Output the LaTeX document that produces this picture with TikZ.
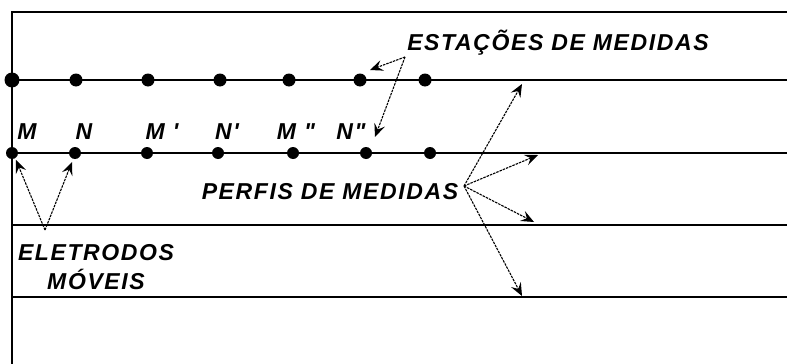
\documentclass[tikz,border=0pt]{standalone}
\usepackage{fontspec}
\setmainfont{Liberation Sans}
\newfontfamily\lblfont[LetterSpace=7]{Liberation Sans}
\usetikzlibrary{arrows.meta}

\begin{document}
\begin{tikzpicture}[x=1pt,y=-1pt]
      \tikzset{mark coordinate/.style={inner sep=0pt,
          outer sep=0pt,
          minimum size=#1,
          fill=black,
          circle},
        lbl/.style={inner sep=0pt,
          font=\lblfont\bfseries\itshape\fontsize{23}{29}\selectfont},
        pointer/.style={dash pattern=on 2.5pt off 1pt, line width=1.1pt,
          -{Stealth[length=13pt,width=11pt,inset=5pt]}}
      }
      \useasboundingbox (0,0) rectangle (787,364);
      \draw [line width=1.8pt] (787,12)--(12,12)--(12,364);
      \foreach \y in {80,153,225,297}
        \draw [line width=1.8pt] (12,\y)--(787,\y);

      % estacoes (perfil 1 e 2)
      \foreach \x [count=\i] in {12,76,148,220,289,360,425}
        \node [mark coordinate=13pt] (t\i) at (\x,80) {};
      \foreach \x [count=\i] in {12,75,147,218,293,366,430}
        \node [mark coordinate=12pt] (b\i) at (\x,153) {};
      \node [mark coordinate=15pt] at (t1) {};

      \node [lbl] (m1) at (27,132) {M};
      \node [lbl] (n1) at (84,132) {N};
      \node [lbl] (m2) at (162,132) {M '};
      \node [lbl] (n2) at (227,132) {N'};
      \node [lbl] (m3) at (296,132) {M "};
      \node [lbl] (n3) at (351,132) {N"};

      \node [lbl] (est) at (558,43) {ESTAÇÕES DE MEDIDAS};
      \node [lbl] (perf) at (330,192) {PERFIS DE MEDIDAS};
      \node [lbl, align=center] (elet) at (96,267) {ELETRODOS\\MÓVEIS};

      \coordinate (est0) at (405,57);
      \coordinate (e1) at (370,70);
      \coordinate (e2) at (375,137);
      \draw [pointer] (est0)--(e1);
      \draw [pointer] (est0)--(e2);

      \coordinate (perf0) at (464,186);
      \coordinate (p1) at (522,84);
      \coordinate (p2) at (538,155);
      \coordinate (p3) at (534,222);
      \coordinate (p4) at (522,296);
      \foreach \p in {p1,p2,p3,p4}
        \draw [pointer] (perf0)--(\p);

      \coordinate (elet0) at (45,230);
      \coordinate (l1) at (16,160);
      \coordinate (l2) at (72,162);
      \draw [pointer] (elet0)--(l1);
      \draw [pointer] (elet0)--(l2);
    \end{tikzpicture}
\end{document}
